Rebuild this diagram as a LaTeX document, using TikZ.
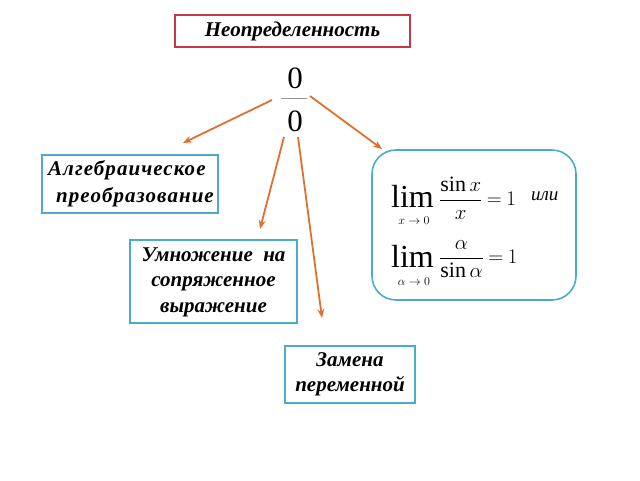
\documentclass[tikz,border=0pt]{standalone}
\usepackage{fontspec}
\setmainfont{Liberation Serif}
\usetikzlibrary{arrows.meta}
\definecolor{redbox}{RGB}{200,55,70}
\definecolor{bluebox}{RGB}{75,172,198}
\definecolor{arr}{RGB}{224,112,48}
\definecolor{barc}{RGB}{150,150,150}
\tikzset{
  lbl/.style={font=\fontsize{21}{25.5}\selectfont\bfseries\itshape, align=center, inner sep=0pt},
  bbox/.style={draw=bluebox, line width=1.6pt},
  rbox/.style={draw=redbox, line width=1.6pt},
  conn/.style={draw=arr, line width=1.8pt, -{Stealth[length=9pt,width=7pt]}},
  zero/.style={font=\fontsize{31}{31}\selectfont, inner sep=0pt},
  limtxt/.style={font=\fontsize{32}{32}\selectfont, inner sep=0pt, anchor=base west},
  limsub/.style={font=\fontsize{12}{12}\selectfont, inner sep=0pt, anchor=north},
  frm/.style={inner sep=0pt, anchor=west, font=\fontsize{22}{26}\selectfont},
}
\begin{document}
\begin{tikzpicture}[x=1pt,y=-1pt]
\useasboundingbox (0,0) rectangle (640,480);
% top box
\draw[rbox] (175,15) rectangle (410,47);
\node[lbl] (top) at (292.5,31) {Неопределенность};
% fraction
\node[zero] (z1) at (295,78) {0};
\node[zero] (z2) at (295,121) {0};
\coordinate (bl) at (281,98);
\coordinate (br) at (307,98);
\draw[barc, line width=0.8pt] (bl) -- (br);
% boxes
\draw[bbox] (42,155) rectangle (218,213);
\node[lbl, align=left, font=\fontsize{21}{27}\selectfont\bfseries\itshape\addfontfeature{LetterSpace=5}] (alg) at (131,184) {Алгебраическое\\\hspace*{8pt}преобразование};
\draw[bbox] (130,240) rectangle (297,323);
\node[lbl] (mul) at (213.5,282) {Умножение\ \ на\\сопряженное\\выражение};
\draw[bbox] (285,346) rectangle (415,403);
\node[lbl] (zam) at (350,374.5) {Замена\\переменной};
\draw[bbox, rounded corners=24pt] (372,150) rectangle (576,300);
% formula 1
\node[limtxt] (lim1) at (391,207) {lim};
\node[limsub] (sub1) at (414,217) {$x\to0$};
\node[frm] (f1) at (439,198) {$\displaystyle\thickmuskip=4mu\frac{\sin x}{x}=1$};
\node[inner sep=0pt, anchor=west, font=\fontsize{19}{22}\selectfont\itshape] (ili) at (531,196) {или};
% formula 2
\node[limtxt] (lim2) at (391,267) {lim};
\node[limsub] (sub2) at (414,278) {$\alpha\to0$};
\node[frm] (f2) at (439,259) {$\displaystyle\thickmuskip=4mu\frac{\alpha}{\sin\alpha}=1$};
% arrows
\coordinate (s1) at (272,100);
\coordinate (t1) at (183,143);
\coordinate (s2) at (284,137);
\coordinate (t2) at (260,229);
\coordinate (s3) at (298,137);
\coordinate (t3) at (322,318);
\coordinate (s4) at (310,96);
\coordinate (t4) at (382,149);
\draw[conn] (s1) -- (t1);
\draw[conn] (s2) -- (t2);
\draw[conn] (s3) -- (t3);
\draw[conn] (s4) -- (t4);
\end{tikzpicture}
\end{document}
